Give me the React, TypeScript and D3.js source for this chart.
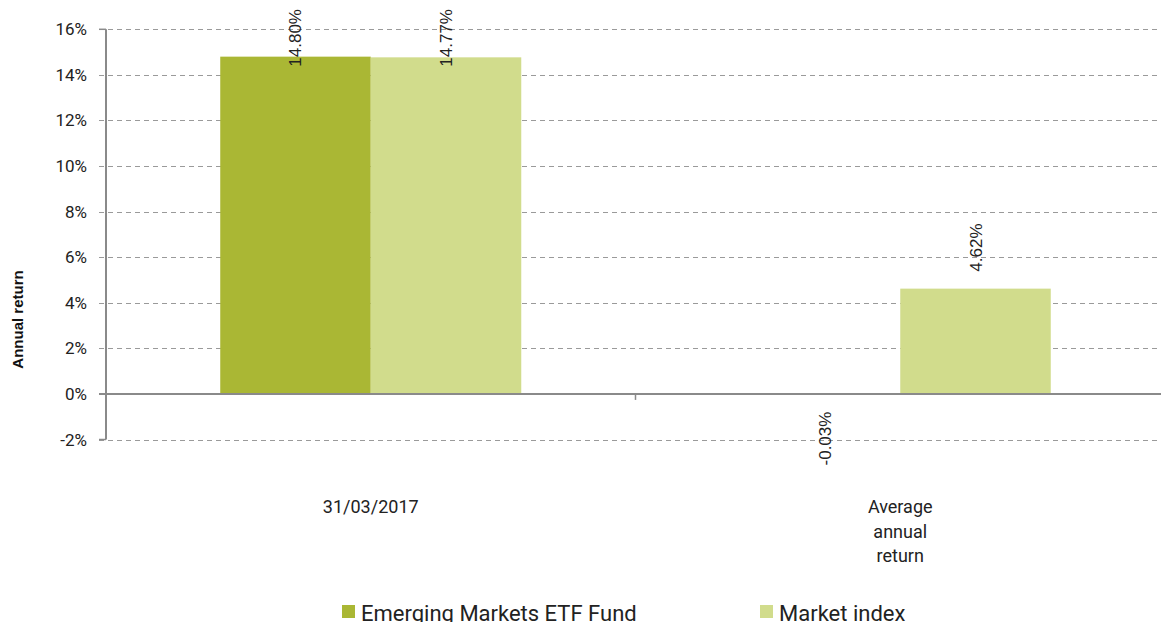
import React, { useEffect, useRef } from "react";
import * as d3 from "d3";

const categories: string[][] = [["31/03/2017"], ["Average", "annual", "return"]];
const categoryKeys = ["31/03/2017", "Average annual return"];
const seriesNames = ["Emerging Markets ETF Fund", "Market index"];
const fundValues = [14.8, -0.03];
const indexValues = [14.77, 4.62];
const yTicks = [-2, 0, 2, 4, 6, 8, 10, 12, 14, 16];
const colors = ["#AAB734", "#D1DC8C"];

const W = 1161;
const H = 622;

export default function App() {
  const ref = useRef<SVGSVGElement | null>(null);

  useEffect(() => {
    document.body.style.margin = "0";
    document.body.style.overflow = "hidden";
    const svg = d3.select(ref.current);
    svg.selectAll("*").remove();

    const x0 = 106;
    const x1 = 1165;
    const y = d3.scaleLinear().domain([-2, 16]).range([439.5, 29.3]);
    const xCat = d3.scaleBand<string>().domain(categoryKeys).range([x0, x1]).paddingInner(0).paddingOuter(0);
    const xSer = d3
      .scaleBand<string>()
      .domain(seriesNames)
      .range([0, xCat.bandwidth()])
      .paddingInner(0)
      .paddingOuter(0.759);

    const sans = "Roboto, 'Liberation Sans', Arial, sans-serif";
    const arial = "'Liberation Sans', Arial, sans-serif";

    // grid
    const g = svg.append("g");
    yTicks.forEach((t) => {
      if (t === 0) return;
      g.append("line")
        .attr("x1", 99)
        .attr("x2", W + 5)
        .attr("y1", Math.round(y(t)) + 0.5)
        .attr("y2", Math.round(y(t)) + 0.5)
        .attr("stroke", "#9a9a9a")
        .attr("stroke-width", 1)
        .attr("stroke-dasharray", "5,4");
    });

    // tick labels
    yTicks.forEach((t) => {
      g.append("text")
        .attr("x", 87)
        .attr("y", y(t) + 6)
        .attr("text-anchor", "end")
        .attr("font-family", sans)
        .attr("font-size", 17)
        .attr("fill", "#222")
        .text(`${t}%`);
    });

    // bars
    const series = [fundValues, indexValues];
    series.forEach((vals, si) => {
      vals.forEach((v, ci) => {
        const bx = (xCat(categoryKeys[ci]) as number) + (xSer(seriesNames[si]) as number);
        const bw = xSer.bandwidth();
        const top = y(Math.max(v, 0));
        const h = Math.abs(y(v) - y(0));
        g.append("rect")
          .attr("x", bx)
          .attr("y", top)
          .attr("width", bw)
          .attr("height", h)
          .attr("fill", colors[si]);
      });
    });

    // axes
    g.append("line")
      .attr("x1", 99)
      .attr("x2", W + 5)
      .attr("y1", y(0))
      .attr("y2", y(0))
      .attr("stroke", "#8a8a8a")
      .attr("stroke-width", 2);
    g.append("line")
      .attr("x1", x0)
      .attr("x2", x0)
      .attr("y1", y(16))
      .attr("y2", y(-2))
      .attr("stroke", "#8a8a8a")
      .attr("stroke-width", 2);
    [-2, 16].forEach((t) => {
      g.append("line")
        .attr("x1", 99)
        .attr("x2", x0)
        .attr("y1", y(t))
        .attr("y2", y(t))
        .attr("stroke", "#8a8a8a")
        .attr("stroke-width", 1.5);
    });
    // category separator tick
    const sep = xCat(categoryKeys[1]) as number;
    g.append("line")
      .attr("x1", sep)
      .attr("x2", sep)
      .attr("y1", y(0))
      .attr("y2", y(0) + 6)
      .attr("stroke", "#8a8a8a")
      .attr("stroke-width", 1.5);

    // value labels
    series.forEach((vals, si) => {
      vals.forEach((v, ci) => {
        const cx = (xCat(categoryKeys[ci]) as number) + (xSer(seriesNames[si]) as number) + xSer.bandwidth() / 2;
        const txt = g
          .append("text")
          .attr("font-family", arial)
          .attr("font-size", 17)
          .attr("fill", "#222")
          .text(`${v.toFixed(2)}%`);
        const len = (txt.node() as SVGTextElement).getComputedTextLength();
        let sy: number;
        if (v >= 0) {
          sy = y(v) - 17;
          if (sy - len < 9) sy = 9 + len;
        } else {
          sy = y(v) + 17 + len;
        }
        txt.attr("transform", `translate(${cx + 6},${sy}) rotate(-90)`).attr("text-anchor", "start");
      });
    });

    // category labels
    categories.forEach((lines, ci) => {
      const cx = (xCat(categoryKeys[ci]) as number) + xCat.bandwidth() / 2;
      lines.forEach((ln, li) => {
        g.append("text")
          .attr("x", cx)
          .attr("y", 513 + li * 24.5)
          .attr("text-anchor", "middle")
          .attr("font-family", sans)
          .attr("font-size", 18)
          .attr("fill", "#222")
          .text(ln);
      });
    });

    // axis title
    g.append("text")
      .attr("transform", `translate(23,319.5) rotate(-90)`)
      .attr("text-anchor", "middle")
      .attr("font-family", arial)
      .attr("font-weight", "bold")
      .attr("font-size", 15)
      .attr("fill", "#111")
      .text("Annual return");

    // legend
    const legendX = [342, 760];
    seriesNames.forEach((name, si) => {
      g.append("rect")
        .attr("x", legendX[si])
        .attr("y", 605)
        .attr("width", 13)
        .attr("height", 13)
        .attr("fill", colors[si]);
      g.append("text")
        .attr("x", legendX[si] + 19)
        .attr("y", 621)
        .attr("font-family", sans)
        .attr("font-size", 22)
        .attr("fill", "#222")
        .text(name);
    });
  }, []);

  return <svg ref={ref} width={W} height={H} style={{ display: "block" }} />;
}
